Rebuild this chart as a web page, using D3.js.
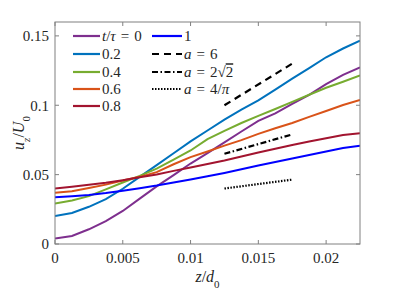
<!DOCTYPE html>
<html lang="en">
<head>
	<meta charset="UTF-8">
	<title>u_z / U_0 profiles</title>
	<script src="https://d3js.org/d3.v7.min.js"></script>
	<style>
		body{ margin:0; background:#fff; }
		svg text{ font-family:"Liberation Serif", "Times New Roman", serif; font-size:15px; fill:#262626; }
		.it{ font-style:italic; }
	</style>
</head>
<body>
	<div id="chart"></div>
	<script>
		// data
		const zs=[0,0.00125,0.0025,0.00375,0.005,0.00625,0.0075,0.00875,0.01,0.01125,0.0125,0.01375,0.015,0.01625,0.0175,0.01875,0.02,0.02125,0.0225];
		const t0  =[0.0040,0.0058,0.0106,0.0165,0.0238,0.0327,0.0415,0.0496,0.0580,0.0655,0.0732,0.0811,0.0887,0.0942,0.1010,0.1075,0.1152,0.1219,0.1273];
		const t02 =[0.0202,0.0224,0.0268,0.0323,0.0398,0.0484,0.0568,0.0654,0.0740,0.0818,0.0897,0.0968,0.1035,0.1113,0.1192,0.1268,0.1346,0.1409,0.1465];
		const t04 =[0.0292,0.0314,0.0345,0.0394,0.0443,0.0491,0.0543,0.0608,0.0674,0.0756,0.0816,0.0872,0.0923,0.0973,0.1024,0.1076,0.1126,0.1169,0.1214];
		const t06 =[0.0370,0.0380,0.0404,0.0428,0.0457,0.0484,0.0518,0.0575,0.0626,0.0667,0.0709,0.0749,0.0794,0.0834,0.0872,0.0916,0.0959,0.1002,0.1038];
		const t08 =[0.0400,0.0413,0.0427,0.0442,0.0460,0.0481,0.0501,0.0527,0.0552,0.0576,0.0602,0.0631,0.0659,0.0687,0.0714,0.0738,0.0762,0.0786,0.0799];
		const t1  =[0.0337,0.0344,0.0353,0.0367,0.0384,0.0402,0.0421,0.0443,0.0465,0.0488,0.0512,0.0538,0.0566,0.0591,0.0616,0.0641,0.0667,0.0692,0.0709];
		const seriesNames=["0","0.2","0.4","0.6","0.8","1"];
		const seriesColors=["#7E2F8E","#0072BD","#77AC30","#D95319","#A2142F","#0000FF"];
		// slope reference lines
		const refZ=[0.0125,0.0175];
		const refA6=[0.100,0.130];
		const refA2r2=[0.065,0.079];
		const refA4pi=[0.040,0.0464];
		const xTicks=[0,0.005,0.01,0.015,0.02];
		const xTickLabels=["0","0.005","0.01","0.015","0.02"];
		const yTicks=[0,0.05,0.1,0.15];
		const yTickLabels=["0","0.05","0.1","0.15"];

		const width=399, height=289;
		const m={top:22,right:39,bottom:45,left:55};
		const pw=width-m.left-m.right, ph=height-m.top-m.bottom;

		const svg=d3.select('#chart').append('svg')
			.attr('width',width).attr('height',height);
		svg.append('defs').append('clipPath').attr('id','clip')
			.append('rect').attr('width',pw).attr('height',ph);

		const g=svg.append('g').attr('transform',`translate(${m.left},${m.top})`);
		const x=d3.scaleLinear().domain([0,0.0225]).range([0,pw]);
		const y=d3.scaleLinear().domain([0,0.16]).range([ph,0]);

		const line=d3.line().x(d=>x(d[0])).y(d=>y(d[1]));
		const allSeries=[t0,t02,t04,t06,t08,t1];

		const plot=g.append('g').attr('clip-path','url(#clip)');
		allSeries.forEach((s,i)=>{
			plot.append('path')
				.datum(zs.map((z,k)=>[z,s[k]]))
				.attr('d',line)
				.attr('fill','none')
				.attr('stroke',seriesColors[i])
				.attr('stroke-width',2);
		});

		// reference slopes
		const refs=[
			{v:refA6,dash:"7,5"},
			{v:refA2r2,dash:"6,2.5,1.5,2.5"},
			{v:refA4pi,dash:"1.5,1.5"}
		];
		refs.forEach(r=>{
			plot.append('path')
				.datum(refZ.map((z,k)=>[z,r.v[k]]))
				.attr('d',line)
				.attr('fill','none')
				.attr('stroke','#000')
				.attr('stroke-width',2.2)
				.attr('stroke-dasharray',r.dash);
		});

		// axes, ticks inward on all four sides
		const axCol='#808080';
		const tick=4;
		g.append('rect').attr('width',pw).attr('height',ph)
			.attr('fill','none').attr('stroke',axCol).attr('stroke-width',1);
		xTicks.forEach((t,i)=>{
			const px=x(t);
			g.append('line').attr('x1',px).attr('x2',px).attr('y1',ph).attr('y2',ph-tick).attr('stroke',axCol);
			g.append('line').attr('x1',px).attr('x2',px).attr('y1',0).attr('y2',tick).attr('stroke',axCol);
			g.append('text').attr('x',px).attr('y',ph+19).attr('text-anchor','middle').text(xTickLabels[i]);
		});
		yTicks.forEach((t,i)=>{
			const py=y(t);
			g.append('line').attr('x1',0).attr('x2',tick).attr('y1',py).attr('y2',py).attr('stroke',axCol);
			g.append('line').attr('x1',pw).attr('x2',pw-tick).attr('y1',py).attr('y2',py).attr('stroke',axCol);
			g.append('text').attr('x',-6).attr('y',py).attr('dy','0.35em').attr('text-anchor','end').text(yTickLabels[i]);
		});

		// axis labels
		const xl=g.append('text').attr('x',pw/2).attr('y',ph+38).attr('text-anchor','middle').style('font-size','16px');
		xl.append('tspan').attr('class','it').text('z');
		xl.append('tspan').text('/');
		xl.append('tspan').attr('class','it').text('d');
		xl.append('tspan').attr('baseline-shift','sub').style('font-size','11px').text('0');

		const yl=svg.append('text').attr('transform',`translate(24,${m.top+ph/2}) rotate(-90)`)
			.attr('text-anchor','middle').style('font-size','16px');
		yl.append('tspan').attr('class','it').text('u');
		yl.append('tspan').attr('class','it').attr('baseline-shift','sub').style('font-size','11px').text('z');
		yl.append('tspan').text('/');
		yl.append('tspan').attr('class','it').text('U');
		yl.append('tspan').attr('baseline-shift','sub').style('font-size','11px').text('0');

		// legend
		const rowY=[36,54,72,89,106];
		const leg=svg.append('g');
		function legLine(x1,x2,yy,col,dash){
			leg.append('line').attr('x1',x1).attr('x2',x2).attr('y1',yy).attr('y2',yy)
				.attr('stroke',col).attr('stroke-width',2.2).attr('stroke-dasharray',dash||null);
		}
		seriesNames.slice(0,5).forEach((n,i)=>{
			legLine(73,100,rowY[i],seriesColors[i]);
			const tx=leg.append('text').attr('x',102).attr('y',rowY[i]).attr('dy','0.35em');
			if(i===0){
				tx.append('tspan').attr('class','it').text('t');
				tx.append('tspan').text('/');
				tx.append('tspan').attr('class','it').text('τ');
				tx.append('tspan').attr('dx',5).text('=');
				tx.append('tspan').attr('dx',5).text(n);
			}else{
				tx.text(n);
			}
		});
		legLine(152,182,rowY[0],seriesColors[5]);
		leg.append('text').attr('x',184).attr('y',rowY[0]).attr('dy','0.35em').text(seriesNames[5]);
		refs.forEach((r,i)=>{
			legLine(152,182,rowY[i+1],'#000',r.dash);
			const tx=leg.append('text').attr('x',184).attr('y',rowY[i+1]).attr('dy','0.35em');
			tx.append('tspan').attr('class','it').text('a');
			tx.append('tspan').attr('dx',5).text('=');
			if(i===0) tx.append('tspan').attr('dx',5).text('6');
			if(i===1){ tx.append('tspan').attr('dx',5).text('2√'); tx.append('tspan').style('text-decoration','overline').text('2'); }
			if(i===2){ tx.append('tspan').attr('dx',5).text('4/'); tx.append('tspan').attr('class','it').text('π'); }
		});
	</script>
</body>
</html>
